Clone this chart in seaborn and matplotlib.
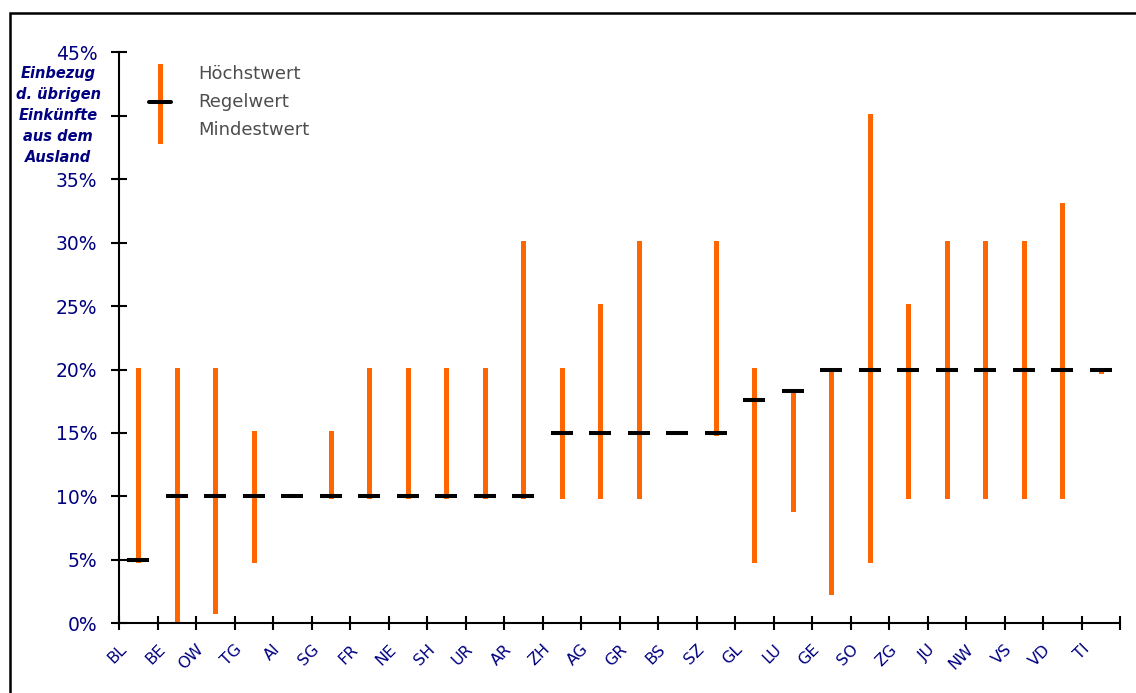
import matplotlib
matplotlib.use("Agg")
import numpy as np
import pandas as pd
import matplotlib.pyplot as plt
import matplotlib.transforms as mtransforms
from matplotlib.lines import Line2D
from matplotlib.patches import Rectangle
import seaborn as sns

# Cantons and their rates (in %) for including other foreign income
cantons = ["BL", "BE", "OW", "TG", "AI", "SG", "FR", "NE", "SH", "UR", "AR", "ZH", "AG",
           "GR", "BS", "SZ", "GL", "LU", "GE", "SO", "ZG", "JU", "NW", "VS", "VD", "TI"]
hoechstwert = [20, 20, 20, 15, 10, 15, 20, 20, 20, 20, 30, 20, 25,
               30, 15, 30, 20, 18.33, 20, 40, 25, 30, 30, 30, 33, 20]
regelwert = [5, 10, 10, 10, 10, 10, 10, 10, 10, 10, 10, 15, 15,
             15, 15, 15, 17.6, 18.33, 20, 20, 20, 20, 20, 20, 20, 20]
mindestwert = [5, 0, 1, 5, 10, 10, 10, 10, 10, 10, 10, 10, 10,
               10, 15, 15, 5, 9, 2.5, 5, 10, 10, 10, 10, 10, 19.9]
y_ticks = [0, 5, 10, 15, 20, 25, 30, 35, 40, 45]
# the 40% label gives way to the axis caption
y_tick_labels = ["0%", "5%", "10%", "15%", "20%", "25%", "30%", "35%", "", "45%"]

ORANGE = "#FF6600"
NAVY = "#000080"

sns.set_style("white")
plt.rcParams["font.family"] = ["DejaVu Sans"]

W, H = 1136, 693
fig = plt.figure(figsize=(W / 100, H / 100), dpi=100)
ax = fig.add_axes([119 / W, 1 - 623.3 / H, (1120 - 119) / W, (623.3 - 52.3) / H])

pos = np.arange(len(cantons))
ranges = pd.DataFrame({
    "canton": cantons * 2,
    "x": np.concatenate([pos, pos]),
    "value": mindestwert + hoechstwert,
})
regel = pd.DataFrame({"x": pos, "value": regelwert})

# high-low range per canton
sns.lineplot(data=ranges, x="x", y="value", units="canton", estimator=None,
             color=ORANGE, linewidth=3.6, solid_capstyle="projecting",
             legend=False, ax=ax, zorder=2)
# usual rate as a short black dash
sns.scatterplot(data=regel, x="x", y="value", marker="_", s=16.5 ** 2,
                linewidth=2.9, color="black", edgecolor="black",
                legend=False, ax=ax, zorder=3)

ax.set_xlim(-0.5, len(cantons) - 0.5)
ax.set_ylim(0, 45)
ax.set_xlabel("")
ax.set_ylabel("")

for side in ("top", "right"):
    ax.spines[side].set_visible(False)
for side in ("left", "bottom"):
    ax.spines[side].set_color("black")
    ax.spines[side].set_linewidth(1.5)

ax.set_yticks(y_ticks, y_tick_labels)
ax.tick_params(axis="y", direction="inout", length=12, width=1.5, color="black",
               pad=9.5, labelsize=13.5, labelcolor=NAVY, left=True)

ax.set_xticks(pos, cantons)
ax.set_xticks(np.arange(len(cantons) + 1) - 0.5, minor=True)
ax.tick_params(axis="x", which="major", length=0, pad=17, labelsize=11.5, labelcolor=NAVY)
ax.tick_params(axis="x", which="minor", direction="inout", length=9.5, width=1.5,
               color="black", bottom=True)
shift = mtransforms.ScaledTranslation(-14 / 100, 0, fig.dpi_scale_trans)
for lab in ax.get_xticklabels():
    lab.set_rotation(45)
    lab.set_ha("right")
    lab.set_va("center")
    lab.set_rotation_mode("anchor")
    lab.set_transform(lab.get_transform() + shift)

# axis caption
fig.text(58 / W, 1 - 66 / H, "Einbezug\nd. übrigen\nEinkünfte\naus dem\nAusland",
         ha="center", va="top", fontsize=10.5, fontweight="bold", style="italic",
         color=NAVY, linespacing=1.5)

# legend: range line with usual-rate dash
def fx(px):
    return px / W

def fy(py):
    return 1 - py / H

fig.add_artist(Line2D([fx(160), fx(160)], [fy(66), fy(141)], color=ORANGE,
                      linewidth=3.6, solid_capstyle="projecting"))
fig.add_artist(Line2D([fx(149), fx(171)], [fy(102), fy(102)], color="black",
                      linewidth=2.9))
for label, py in (("Höchstwert", 74), ("Regelwert", 102), ("Mindestwert", 130)):
    fig.text(fx(198), fy(py), label, ha="left", va="center", fontsize=13,
             color="#4d4d4d")

# frame around the figure
fig.add_artist(Rectangle((fx(10), -0.1), 1.2, fy(13) + 0.1, transform=fig.transFigure,
                         fill=False, edgecolor="black", linewidth=1.8, clip_on=False))

fig.savefig("out.png", dpi=100)
